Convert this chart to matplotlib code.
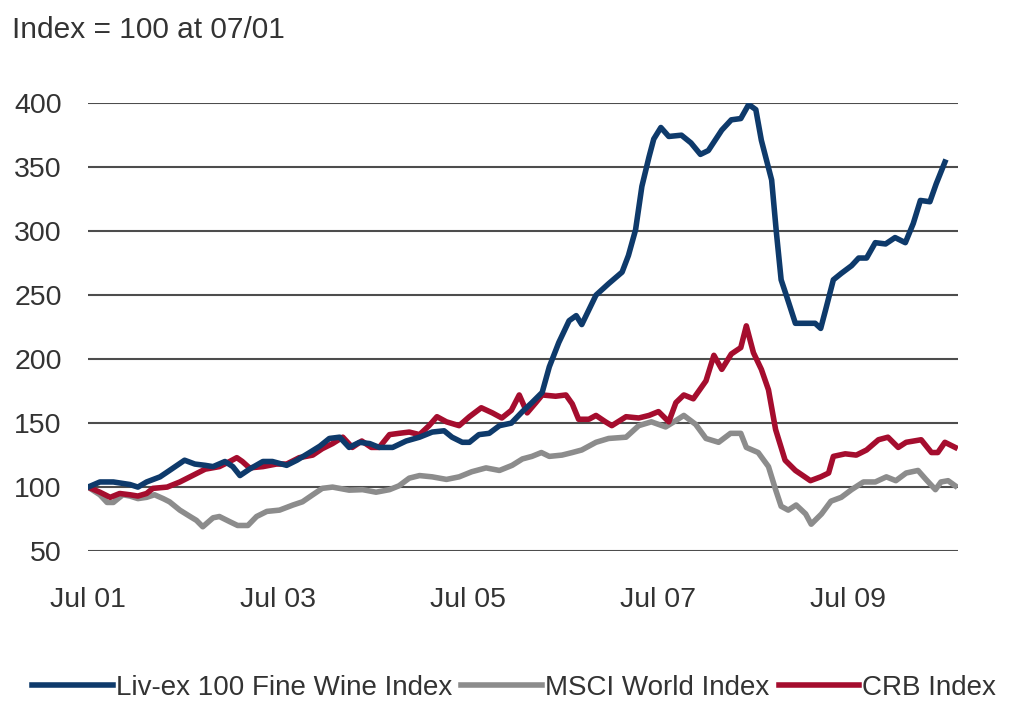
import matplotlib
matplotlib.use('Agg')
import matplotlib.pyplot as plt

# months since Jul 2001 / index values
livex_m = [0, 1.5, 3.2, 5.3, 6.3, 7.4, 9.1, 10.3, 12.2, 13.5, 14.8, 15.8, 17.3, 18.3, 19.2, 20.4,
           22.1, 23.3, 25.1, 26.4, 28, 29.3, 30.5, 31.8, 33, 34.3, 35.6, 36.8, 38.5, 40.2, 41.9,
           43.5, 45, 46, 47.3, 48.2, 49.4, 50.7, 52, 53.5, 54.9, 56.1, 57.4, 58.3, 59.5, 60.8,
           61.7, 62.4, 64.2, 65.8, 67.5, 68.3, 69.2, 70, 70.9, 71.5, 72.4, 73.4, 75, 76.2, 77.4,
           78.4, 80.1, 81.3, 82.5, 83.5, 84.4, 85.1, 86.4, 87, 87.6, 88.3, 89.4, 90.7, 91.9, 92.6,
           93.2, 94.2, 95.2, 96.5, 97.4, 98.4, 99.5, 100.8, 102, 103.3, 104.3, 105.2, 106.4,
           107.2, 108.3]
livex_v = [100, 104, 104, 102, 100, 104, 108, 113, 121, 118, 117, 116, 120, 116, 109, 114,
           120, 120, 117, 121, 127, 132, 138, 139, 131, 135, 134, 131, 131, 136, 139,
           143, 144, 139, 135, 135, 141, 142, 148, 150, 159, 166, 174, 194, 213, 230,
           234, 227, 250, 259, 268, 281, 301, 335, 358, 372, 381, 374, 375, 369, 360,
           363, 379, 387, 388, 399, 395, 371, 340, 299, 262, 249, 228, 228, 228, 224,
           238, 262, 267, 273, 279, 279, 291, 290, 295, 291, 306, 324, 323,
           337, 354]

msci_m = [0, 1.5, 2.4, 3.2, 4.4, 5.3, 6.3, 7.4, 8.4, 9.5, 10.3, 11.6, 12.9, 13.7, 14.5, 15.8,
          16.6, 17.9, 18.9, 20.2, 21.3, 22.6, 24.2, 25.9, 27.1, 28.4, 29.6, 30.9, 33, 34.7,
          36.4, 38.1, 39.3, 40.6, 41.9, 43.5, 45.3, 46.9, 48.5, 50.3, 52, 53.6, 54.9, 56.1,
          57.3, 58.3, 59.9, 61.2, 62.4, 64.2, 65.8, 68, 69.6, 71.2, 73, 74.3, 75.3, 76.8,
          78.1, 79.7, 81.2, 82.5, 83.2, 84.7, 86, 86.9, 87.6, 88.5, 89.5, 90.7, 91.4, 92.7,
          93.9, 95.2, 96.5, 98, 99.5, 100.9, 102.1, 103.4, 104.9, 105.9, 107.1, 107.8,
          108.7, 109.6]
msci_v = [100, 94, 88, 88, 94, 93, 91, 92, 94, 91, 88.5, 82, 77, 74, 69, 76,
          77, 73, 70, 70, 77, 81, 82, 86, 88.5, 94, 99, 100, 97.6, 98,
          96, 98, 101, 107, 109, 108, 106, 108, 112, 115, 113, 117, 122, 124,
          127, 124, 125, 127, 129, 135, 138, 139, 148, 151, 147, 152, 156, 149,
          138, 135, 142, 142, 131, 127, 116, 98, 85, 82, 86, 79, 71, 79,
          89, 92, 98, 104, 104, 108, 105, 111, 113, 106, 98, 104,
          105, 101]

crb_m = [0, 1.5, 2.8, 4, 5.3, 6.3, 7.4, 8.2, 10, 11.6, 13.2, 14.8, 16.6, 17.9, 18.8, 19.5,
         20.4, 22.1, 23.8, 25.1, 26.7, 28.4, 29.6, 30.9, 32.2, 33.4, 34.6, 35.8, 36.8, 38.1,
         39.3, 40.6, 41.9, 43.1, 44.1, 45.3, 46.9, 48.2, 49.7, 51.1, 52.3, 53.5, 54.5, 55.5,
         56.6, 57.4, 59.1, 60.4, 61.2, 62, 63.3, 64.2, 65.4, 66.2, 68, 69.6, 70.9, 72.1,
         73.4, 74.3, 75.3, 76.5, 78.1, 79.1, 80.1, 81.3, 82.5, 83.2, 84.1, 85.1, 86, 86.9,
         88.1, 89.4, 91.3, 92.6, 93.6, 94.2, 95.7, 97.1, 98.4, 99.9, 101.1, 102.4, 103.4,
         105.3, 106.6, 107.4, 108.3, 109.6]
crb_v = [100, 96, 92, 95, 94, 93, 95, 99, 100, 104, 109, 114, 116, 120, 123, 120,
         115, 116, 118, 118, 123, 125, 130, 134, 139, 131, 136, 131, 131, 141,
         142, 143, 141, 148, 155, 151, 148, 155, 162, 158, 154, 160, 172, 158,
         166, 172, 171, 172, 165, 153, 153, 156, 151, 148, 155, 154, 156, 159,
         151, 166, 172, 169, 183, 203, 192, 204, 209, 226, 205, 192, 176, 145,
         121, 113, 105, 108, 111, 124, 126, 125, 129, 137, 139, 131, 135,
         137, 127, 127, 135, 131]

tick_pos = [0, 24, 48, 72, 96]
tick_lab = ['Jul 01', 'Jul 03', 'Jul 05', 'Jul 07', 'Jul 09']

plt.rcParams['font.family'] = ['Liberation Sans', 'DejaVu Sans']
txt = '#333333'

fig = plt.figure(figsize=(10.12, 7.02), dpi=100)
ax = fig.add_axes([0.087, 0.215, 0.86, 0.638])

l2, = ax.plot(msci_m, msci_v, color='#8c8c8c', lw=4, solid_joinstyle='round', zorder=3)
l3, = ax.plot(crb_m, crb_v, color='#a50d2e', lw=4, solid_joinstyle='round', zorder=4)
l1, = ax.plot(livex_m, livex_v, color='#0e3a6b', lw=4, solid_joinstyle='round', zorder=5)

ax.set_xlim(0, 110)
ax.set_ylim(50, 400)
ax.set_yticks(range(50, 401, 50))
ax.set_xticks(tick_pos)
ax.set_xticklabels(tick_lab)
ax.yaxis.grid(True, color='#4d4d4d', lw=1.5)
ax.set_axisbelow(True)
for s in ax.spines.values():
    s.set_visible(False)
ax.tick_params(length=0, labelsize=20.5, colors=txt)
ax.tick_params(axis='y', pad=19)
ax.tick_params(axis='x', pad=26)

fig.text(0.012, 0.957, 'Index = 100 at 07/01', fontsize=21.5, color=txt, va='center')

fig.legend([l1, l2, l3], ['Liv-ex 100 Fine Wine Index', 'MSCI World Index', 'CRB Index'],
           loc='center', bbox_to_anchor=(0.508, 0.02), ncol=3, frameon=False, fontsize=20,
           handlelength=2.9, handletextpad=0.1, columnspacing=0.35, labelcolor=txt,
           borderpad=0.1)

fig.savefig('out.png', dpi=100)
